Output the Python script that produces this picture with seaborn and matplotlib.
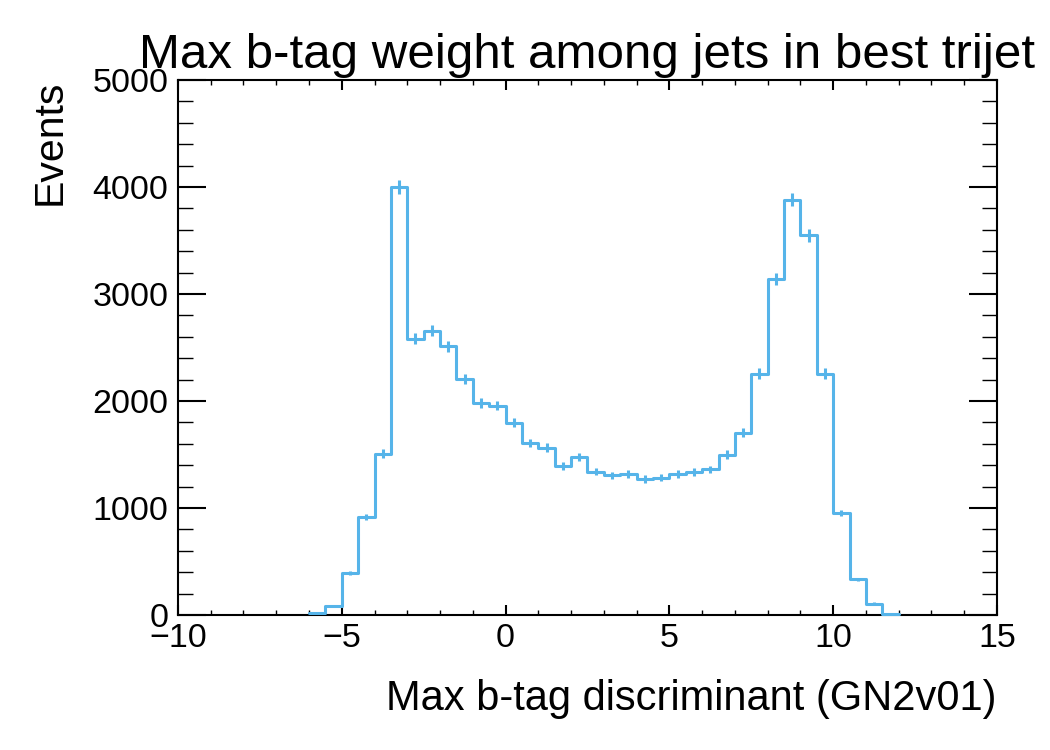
import numpy as np
import pandas as pd
import matplotlib
matplotlib.use("Agg")
import matplotlib.pyplot as plt
import seaborn as sns
from matplotlib.ticker import MultipleLocator

# ---- data ----
bin_edges = [float(v) for v in np.arange(-6.0, 12.0 + 0.25, 0.5)]
counts = [
    15, 80, 395, 918, 1509, 3998, 2581, 2659, 2512, 2210,
    1983, 1958, 1796, 1609, 1565, 1391, 1479, 1341, 1304, 1316,
    1273, 1285, 1316, 1335, 1360, 1500, 1705, 2257, 3136, 3883,
    3547, 2257, 955, 332, 107, 14,
]
title = "Max b-tag weight among jets in best trijet"
xlabel = "Max b-tag discriminant (GN2v01)"
ylabel = "Events"
xlim = (-10, 15)
ylim = (0, 5000)

color = "#56B4E9"

sns.set_style("ticks")
plt.rcParams["font.family"] = ["Liberation Sans", "DejaVu Sans"]
plt.rcParams["mathtext.default"] = "regular"
plt.rcParams["text.color"] = "black"
plt.rcParams["axes.labelcolor"] = "black"

edges_arr = np.asarray(bin_edges)
counts_arr = np.asarray(counts, dtype=float)
centers = 0.5 * (edges_arr[:-1] + edges_arr[1:])
df = pd.DataFrame({"x": centers, "w": counts_arr})

fig = plt.figure(figsize=(10.5, 7.5), dpi=100)
ax = fig.add_axes([0.1695, 0.18, 0.9495 - 0.1695, 0.8933 - 0.18])

sns.histplot(data=df, x="x", weights="w", bins=bin_edges, element="step",
             fill=False, color=color, linewidth=2.2, ax=ax, zorder=5)
ax.errorbar(centers, counts_arr, yerr=np.sqrt(counts_arr), fmt="none",
            ecolor=color, elinewidth=2.2, capsize=0, zorder=5)
for ln in ax.lines:
    ln.set_clip_on(False)

ax.set_xlim(*xlim)
ax.set_ylim(*ylim)

ax.xaxis.set_major_locator(MultipleLocator(5))
ax.xaxis.set_minor_locator(MultipleLocator(1))
ax.yaxis.set_major_locator(MultipleLocator(1000))
ax.yaxis.set_minor_locator(MultipleLocator(200))

for s in ax.spines.values():
    s.set_visible(True)
    s.set_linewidth(1.5)
    s.set_color("black")
    s.set_zorder(2)

ax.tick_params(axis="both", which="both", direction="in", top=True, right=True,
               labelsize=24.5, colors="black")
ax.tick_params(axis="x", which="major", length=7, width=1.5, pad=6)
ax.tick_params(axis="x", which="minor", length=3.5, width=1.0)
ax.tick_params(axis="y", which="major", length=20, width=1.5, pad=7)
ax.tick_params(axis="y", which="minor", length=11, width=1.0)

ax.set_title(title, fontsize=35.5, pad=9, color="black")
ax.set_xlabel(xlabel, fontsize=30, loc="right", labelpad=18, color="black")
ax.set_ylabel(ylabel, fontsize=29.5, loc="top", labelpad=17, color="black")

fig.savefig("out.png", dpi=100)
